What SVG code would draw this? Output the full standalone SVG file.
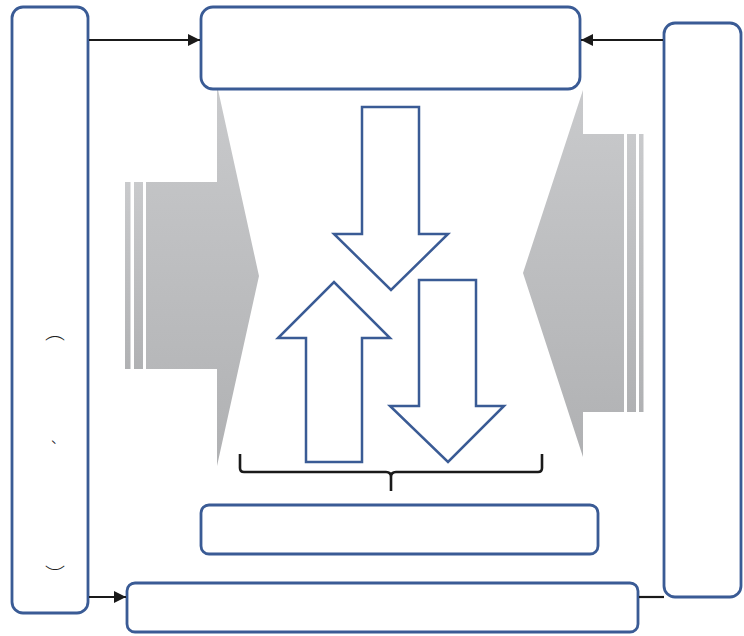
<svg xmlns="http://www.w3.org/2000/svg" width="744" height="636" viewBox="0 0 744 636">
<style>
.box{fill:#fff;stroke:#3a5b95;stroke-width:2.8}
.barrow{fill:#fff;stroke:#3a5b95;stroke-width:2.5;stroke-linejoin:miter}
.conn{fill:none;stroke:#1a1a1a;stroke-width:2.2}
.brace{fill:none;stroke:#1a1a1a;stroke-width:2.6;stroke-linejoin:round}
.mark{font-family:"Noto Sans CJK JP",sans-serif;fill:#222;font-weight:300}
</style>
<defs>
<linearGradient id="grayL" x1="0" y1="0" x2="0" y2="1">
<stop offset="0" stop-color="#c9cacc"/>
<stop offset="1" stop-color="#b0b1b3"/>
</linearGradient>
<marker id="ah" viewBox="0 0 10 10" refX="10" refY="5" markerWidth="5.5" markerHeight="5.5" markerUnits="strokeWidth" orient="auto">
<path d="M0,0 L10,5 L0,10 Z" fill="#1a1a1a"/>
</marker>
</defs>

<g id="gray-left">
<rect x="125" y="182" width="5.5" height="187" fill="url(#grayL)"/>
<rect x="134" y="182" width="9" height="187" fill="url(#grayL)"/>
<path d="M146,182 H217 V85 L259,276 L217,466 V369 H146 Z" fill="url(#grayL)"/>
</g>
<g id="gray-right">
<rect x="639" y="134" width="4.5" height="278" fill="url(#grayL)"/>
<rect x="627" y="134" width="9" height="278" fill="url(#grayL)"/>
<path d="M624,134 H583 V90 L523,273 L583,457 V412 H624 Z" fill="url(#grayL)"/>
</g>

<g id="node-left"><rect class="box" x="12" y="7" width="76" height="606" rx="11"/>
<text class="mark" font-size="20" x="55" y="339" text-anchor="middle">︵</text>
<text class="mark" font-size="14" x="51" y="443">、</text>
<text class="mark" font-size="20" x="55" y="583" text-anchor="middle">︶</text>
</g>
<g id="node-top"><rect class="box" x="201" y="7" width="379" height="82" rx="12"/></g>
<g id="node-right"><rect class="box" x="664" y="23" width="77" height="574" rx="11"/></g>
<g id="node-middle"><rect class="box" x="201" y="505" width="397" height="49" rx="8"/></g>
<g id="node-bottom"><rect class="box" x="127" y="583" width="511" height="49" rx="8"/></g>

<g id="arrow-down-1"><path class="barrow" d="M362,107 H419 V234 H448 L391,290 L334,234 H362 Z"/></g>
<g id="arrow-up"><path class="barrow" d="M306,462 H362 V338 H390 L334,282 L278,338 H306 Z"/></g>
<g id="arrow-down-2"><path class="barrow" d="M419,280 H476 V406 H504 L448,462 L390,406 H419 Z"/></g>

<g id="brace"><path class="brace" d="M240,454 V468 Q240,472 244,472 H386 Q391,472 391,477 V491 M391,477 Q391,472 396,472 H538 Q542,472 542,468 V454"/></g>

<g id="connectors">
<line class="conn" x1="89" y1="40" x2="200" y2="40" marker-end="url(#ah)"/>
<line class="conn" x1="663" y1="40" x2="581" y2="40" marker-end="url(#ah)"/>
<line class="conn" x1="89" y1="597" x2="126" y2="597" marker-end="url(#ah)"/>
<line class="conn" x1="639" y1="597" x2="664" y2="597"/>
</g>
</svg>
